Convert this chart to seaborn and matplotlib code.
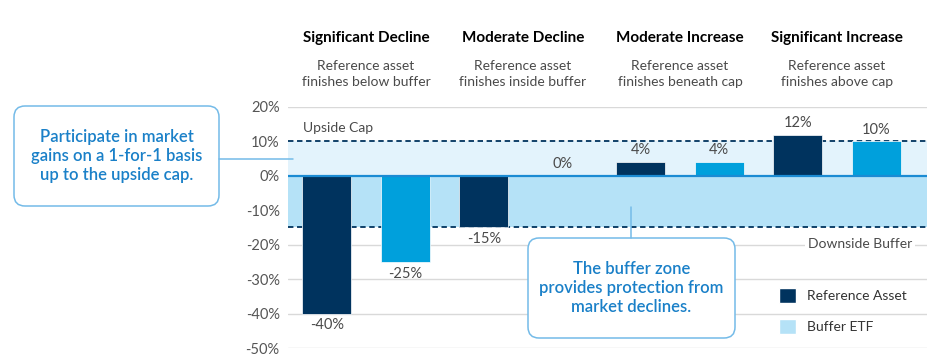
import numpy as np
import pandas as pd
import matplotlib.pyplot as plt
import matplotlib.transforms as mtransforms
from matplotlib.patches import FancyBboxPatch, Patch
from matplotlib.lines import Line2D
import seaborn as sns

# data
scenarios = ["Significant Decline", "Moderate Decline", "Moderate Increase", "Significant Increase"]
subtitles = ["Reference asset\nfinishes below buffer", "Reference asset\nfinishes inside buffer",
             "Reference asset\nfinishes beneath cap", "Reference asset\nfinishes above cap"]
series = ["Reference Asset", "Buffer ETF"]
reference_asset = [-40, -15, 4, 12]
buffer_etf = [-25, 0, 4, 10]
upside_cap = 10
downside_buffer = -15
y_ticks = [20, 10, 0, -10, -20, -30, -40, -50]

df = pd.DataFrame({
    "scenario": scenarios * 2,
    "series": [series[0]] * len(scenarios) + [series[1]] * len(scenarios),
    "value": reference_asset + buffer_etf,
})

# colours
navy = "#00335e"
cyan = "#00a0dc"
pale = "#e3f3fc"
light = "#b5e2f7"
zero_blue = "#1b8bd3"
box_text = "#1a80c8"
box_edge = "#74bbe8"
grey_txt = "#4a4a4a"

sns.set_theme(style="white")
plt.rcParams["font.family"] = ["Lato", "DejaVu Sans"]

W, H = 936, 356
fig = plt.figure(figsize=(W / 100, H / 100), dpi=100)
ax = fig.add_axes([288 / W, 1 - 348 / H, (927 - 288) / W, (348 - 107) / H])
# pixel transform (y from the bottom) for the callouts
px = mtransforms.Affine2D().scale(1 / W, 1 / H) + fig.transFigure

# buffer / cap zones
ax.axhspan(0, upside_cap, color=pale, lw=0, zorder=0.6)
ax.axhspan(downside_buffer, 0, color=light, lw=0, zorder=0.6)
for y in (upside_cap, downside_buffer):
    ax.axhline(y, color=navy, lw=1.3, ls=(0, (3, 2)), zorder=1)

sns.barplot(data=df, x="scenario", y="value", hue="series", order=scenarios,
            hue_order=series, palette=[navy, cyan], saturation=1, width=1.0,
            gap=0.38, legend=False, ax=ax, zorder=2, edgecolor="white", linewidth=0.5)

ax.axhline(0, color=zero_blue, lw=1.6, zorder=3)

for cont in ax.containers:
    ax.bar_label(cont, labels=[f"{v:.0f}%" for v in cont.datavalues], padding=3.5,
                 fontsize=10.5, color=grey_txt)

ax.set_ylim(-50, 20)
ax.set_xlim(-0.497, 3.573)
ax.set_yticks(y_ticks)
ax.set_yticklabels([f"{t}%" for t in y_ticks])
ax.set_xticks([])
ax.set_xlabel("")
ax.set_ylabel("")
ax.yaxis.grid(True, color="#d9d9d9", lw=1)
ax.set_axisbelow(True)
ax.tick_params(axis="y", length=0, pad=6, labelsize=10.5, labelcolor="#555555")
for sp in ax.spines.values():
    sp.set_visible(False)

# scenario headers
trans = mtransforms.blended_transform_factory(ax.transData, fig.transFigure)
for i, (s, sub) in enumerate(zip(scenarios, subtitles)):
    ax.text(i, 1 - 38 / H, s, transform=trans, ha="center", va="center",
            fontsize=11, fontweight="bold", color="black")
    ax.text(i, 1 - 74 / H, sub, transform=trans, ha="center", va="center",
            fontsize=10, color=grey_txt, linespacing=1.3)

# cap / buffer labels
side = mtransforms.blended_transform_factory(ax.transAxes, ax.transData)
ax.text(0.023, 13.9, "Upside Cap", transform=side, ha="left", va="center",
        fontsize=10, color=grey_txt)
ax.text(0.977, -19.7, "Downside Buffer", transform=side, ha="right", va="center",
        fontsize=10, color=grey_txt,
        bbox=dict(facecolor="white", edgecolor="none", pad=2))

# callout boxes
callouts = [
    ((14, 150, 205, 100), "Participate in market\ngains on a 1-for-1 basis\nup to the upside cap.",
     [(219, 293), (197, 197)]),
    ((528, 18, 207, 100), "The buffer zone\nprovides protection from\nmarket declines.",
     [(631, 631), (118, 149)]),
]
for (x0, y0, w, h), txt, (lx, ly) in callouts:
    fig.add_artist(FancyBboxPatch((x0, y0), w, h, boxstyle="round,pad=0,rounding_size=11",
                                  transform=px, facecolor="white", edgecolor=box_edge, lw=1.1))
    fig.text(x0 + w / 2, y0 + h / 2, txt, transform=px, ha="center", va="center",
             fontsize=12, fontweight="semibold", color=box_text, linespacing=1.2)
    fig.add_artist(Line2D(lx, ly, transform=px, color=box_edge, lw=1.1))

# legend
handles = [Patch(facecolor=navy), Patch(facecolor=light)]
ax.legend(handles, series, loc="upper left", bbox_to_anchor=(779 / W, 1 - 288 / H),
          bbox_transform=fig.transFigure, frameon=False, fontsize=10,
          handlelength=1.25, handleheight=1.25, handletextpad=0.8, labelspacing=1.2,
          borderpad=0, borderaxespad=0, labelcolor="#333333")

fig.savefig("out.png", dpi=100)
